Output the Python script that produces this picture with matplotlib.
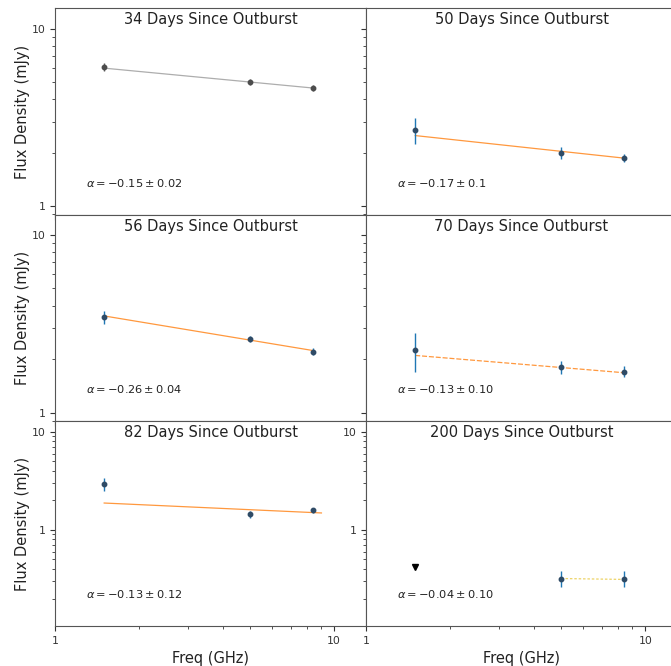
import numpy as np
import matplotlib
matplotlib.use("Agg")
import matplotlib.pyplot as plt
from matplotlib.ticker import LogLocator, NullFormatter, FixedLocator, FixedFormatter

# Observing frequencies (GHz)
freqs = [1.5, 5.0, 8.4]

# Epochs (days since outburst)
epochs = [34, 50, 56, 70, 82, 200]

# Flux densities (mJy) and 1-sigma errors per epoch
flux_34 = [6.1, 5.0, 4.65]
err_34 = [0.35, 0.2, 0.2]
flux_50 = [2.7, 2.0, 1.87]
err_50 = [0.45, 0.15, 0.1]
flux_56 = [3.45, 2.6, 2.2]
err_56 = [0.3, 0.1, 0.1]
flux_70 = [2.25, 1.8, 1.7]
err_70 = [0.55, 0.15, 0.12]
flux_82 = [2.95, 1.45, 1.58]
err_82 = [0.45, 0.12, 0.08]
flux_200 = [0.32, 0.32]
err_200 = [0.06, 0.06]
freqs_200 = [5.0, 8.4]
limit_200 = 0.42  # 3-sigma upper limit at 1.5 GHz

# Power-law fits: spectral index, its error, and fitted flux at the reference frequency
alpha = [-0.15, -0.17, -0.26, -0.13, -0.13, -0.04]
alpha_err = ["0.02", "0.1", "0.04", "0.10", "0.12", "0.10"]
fit_ref_flux = [6.0, 2.5, 3.5, 2.1, 1.88, 0.32]
fit_ref_freq = [1.5, 1.5, 1.5, 1.5, 1.5, 5.0]
fit_lo = [1.5, 1.5, 1.5, 1.5, 1.5, 5.0]
fit_hi = [8.4, 8.4, 8.4, 8.4, 9.0, 8.4]

fluxes = [flux_34, flux_50, flux_56, flux_70, flux_82, flux_200]
errors = [err_34, err_50, err_56, err_70, err_82, err_200]
freq_sets = [freqs, freqs, freqs, freqs, freqs, freqs_200]

fig = plt.figure(figsize=(6.71, 6.66), dpi=100)

left_x = [0.082, 0.5455]
width = 0.4635
row_bottom = [0.677, 0.368, 0.060]
row_height = [0.311, 0.309, 0.308]
ylims = [(0.89, 13.1), (0.90, 12.9), (0.105, 12.9)]

point_colors = ["0.35", "C0", "C0", "C0", "C0", "C0"]
line_colors = ["0.6", "C1", "C1", "C1", "C1", "#e8c840"]
line_styles = ["-", "-", "-", (0, (4, 1.5)), "-", (0, (2, 1.5))]

for i, ep in enumerate(epochs):
    r, c = divmod(i, 2)
    ax = fig.add_axes([left_x[c], row_bottom[r], width, row_height[r]])
    ax.set_xscale("log")
    ax.set_yscale("log")
    ax.set_xlim(1.0, 13.0)
    ax.set_ylim(*ylims[r])

    # fitted power law
    nu = np.geomspace(fit_lo[i], fit_hi[i], 50)
    model = fit_ref_flux[i] * (nu / fit_ref_freq[i]) ** alpha[i]
    ax.plot(nu, model, color=line_colors[i], lw=0.9, alpha=0.8,
            linestyle=line_styles[i], zorder=1)

    # measurements
    face = "0.3" if i == 0 else "#2f4b66"
    ax.errorbar(freq_sets[i], fluxes[i], yerr=errors[i], fmt="o", ms=3.2,
                color=point_colors[i], mfc=face, mec=face,
                elinewidth=1.0, capsize=0, zorder=3)
    if ep == 200:
        ax.plot([1.5], [limit_200], marker="v", ms=4, color="black",
                linestyle="none", zorder=3)

    ax.text(0.5, 0.945, f"{ep} Days Since Outburst", transform=ax.transAxes,
            ha="center", va="center", fontsize=10.5, color="#222222")
    ax.text(0.10, 0.155, rf"$\alpha = -{abs(alpha[i]):.2f} \pm {alpha_err[i]}$",
            transform=ax.transAxes, ha="left", va="center", fontsize=8.2,
            color="#222222")

    ax.yaxis.set_major_locator(FixedLocator([1, 10]))
    ax.yaxis.set_minor_locator(LogLocator(base=10, subs=np.arange(2, 10)))
    ax.yaxis.set_minor_formatter(NullFormatter())
    ax.xaxis.set_major_locator(FixedLocator([1, 10]))
    ax.xaxis.set_minor_locator(LogLocator(base=10, subs=np.arange(2, 10)))
    ax.xaxis.set_minor_formatter(NullFormatter())

    if c == 0 or r == 2:
        ax.yaxis.set_major_formatter(FixedFormatter(["1", "10"]))
    else:
        ax.yaxis.set_major_formatter(NullFormatter())
    if r == 2:
        ax.xaxis.set_major_formatter(FixedFormatter(["1", "10"]))
        ax.set_xlabel("Freq (GHz)", fontsize=10.5, color="#222222")
    else:
        ax.xaxis.set_major_formatter(NullFormatter())
    if c == 0:
        ax.set_ylabel("Flux Density (mJy)", fontsize=10.5, color="#222222",
                      labelpad=1)

    ax.tick_params(which="both", labelsize=7.8, colors="#333333")
    for s in ax.spines.values():
        s.set_color("#555555")

fig.savefig("out.png", dpi=100)
